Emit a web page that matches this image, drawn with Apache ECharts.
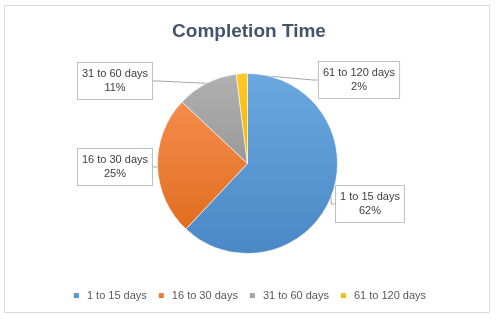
<!DOCTYPE html>
<html>
<head>
<meta charset="utf-8">
<script src="https://cdn.jsdelivr.net/npm/echarts@6/dist/echarts.min.js"></script>
<style>
html,body{margin:0;padding:0;background:#fff;}
#frame{position:absolute;left:4px;top:5px;width:486px;height:308px;border:1px solid #d9d9d9;box-sizing:border-box;}
#main{position:absolute;left:0;top:0;width:498px;height:322px;}
</style>
</head>
<body>
<div id="frame"></div>
<div id="main"></div>
<script>
var categories = ['1 to 15 days', '16 to 30 days', '31 to 60 days', '61 to 120 days'];
var values = [62, 25, 11, 2];
var colors = [['#6ba8e0', '#4a88c6'], ['#f58c4c', '#e06e1f'], ['#b0b0b0', '#9a9a9a'], ['#ffc826', '#f0b400']];
var labelCenters = [[370, 204], [115, 167], [115, 81], [359, 80]];

var chart = echarts.init(document.getElementById('main'), null, {renderer: 'canvas'});
var data = categories.map(function (c, i) {
  return {
    name: c,
    value: values[i],
    itemStyle: {
      color: new echarts.graphic.LinearGradient(0, 0, 0, 1, [
        {offset: 0, color: colors[i][0]},
        {offset: 1, color: colors[i][1]}
      ])
    }
  };
});
chart.setOption({
  animation: false,
  color: colors.map(function (c) { return c[1]; }),
  title: {
    text: 'Completion Time',
    left: 'center',
    top: 17,
    textStyle: {fontFamily: 'Liberation Sans', fontWeight: 'bold', fontSize: 19, color: '#44546a'}
  },
  legend: {
    bottom: 16,
    left: 'center',
    icon: 'rect',
    itemWidth: 7,
    itemHeight: 7,
    itemGap: 10,
    textStyle: {fontFamily: 'Liberation Sans', fontSize: 11, color: '#595959', padding: [0, 0, 0, 2]},
    data: categories
  },
  series: [{
    type: 'pie',
    center: [247.5, 163.5],
    radius: 90,
    startAngle: 90,
    clockwise: true,
    data: data,
    itemStyle: {borderColor: '#ffffff', borderWidth: 0.6},
    label: {
      show: true,
      formatter: '{b}\n{d}%',
      fontFamily: 'Liberation Sans',
      fontSize: 11,
      lineHeight: 14,
      color: '#404040',
      align: 'center',
      backgroundColor: '#ffffff',
      borderColor: '#bfbfbf',
      borderWidth: 1,
      padding: [4, 4, 4, 4]
    },
    labelLine: {show: true, lineStyle: {color: '#a6a6a6', width: 1}, length: 5, length2: 5},
    labelLayout: function (p) {
      var c = labelCenters[p.dataIndex];
      return {x: c[0], y: c[1], align: 'center', verticalAlign: 'middle'};
    },
    emphasis: {disabled: true}
  }]
});
</script>
</body>
</html>
